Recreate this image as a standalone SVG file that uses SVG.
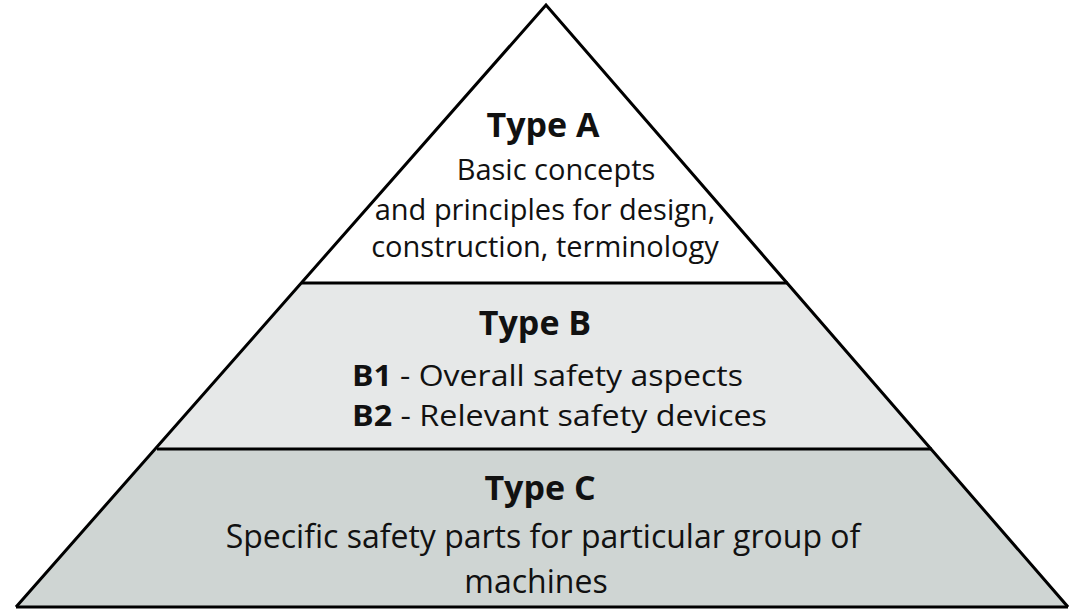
<svg xmlns="http://www.w3.org/2000/svg" width="1069" height="609" viewBox="0 0 1069 609">
<style>
.t{font-family:"Open Sans","Noto Sans","Liberation Sans",sans-serif;fill:#111;text-anchor:middle}
.h{font-size:34px;font-weight:bold}
.a{font-size:29px}
.b{font-size:32px}
.b2{font-size:29px}
.bl{text-anchor:start}
.edge{stroke:#000;stroke-width:3;fill:none;stroke-linejoin:miter}
</style>
<rect width="1069" height="609" fill="#fff"/>
<g id="typeC">
<polygon points="16,607 157,449 932,449 1068,607" fill="#cfd5d3"/>
<text class="t h" x="540" y="500">Type C</text>
<text class="t b" x="543" y="548">Specific safety parts for particular group of</text>
<text class="t b" x="536" y="593">machines</text>
</g>
<g id="typeB">
<polygon points="157,449 302,283 788,283 932,449" fill="#e6e8e8"/>
<text class="t h" x="535" y="335">Type B</text>
<text class="t b2 bl" x="352" y="386" textLength="391" lengthAdjust="spacingAndGlyphs"><tspan font-weight="bold">B1</tspan> - Overall safety aspects</text>
<text class="t b2 bl" x="352" y="426" textLength="415" lengthAdjust="spacingAndGlyphs"><tspan font-weight="bold">B2</tspan> - Relevant safety devices</text>
</g>
<g id="typeA">
<polygon points="302,283 546,5 788,283" fill="#fff"/>
<text class="t h" x="543" y="137">Type A</text>
<text class="t a" x="556" y="180">Basic concepts</text>
<text class="t a" x="545" y="220">and principles for design,</text>
<text class="t a" x="545" y="257">construction, terminology</text>
</g>
<g id="connectors">
<polyline class="edge" points="16,607 546,5 1068,607"/>
<line class="edge" x1="16" y1="607" x2="1068" y2="607"/>
<line class="edge" x1="302" y1="283" x2="788" y2="283"/>
<line class="edge" x1="157" y1="449" x2="932" y2="449"/>
</g>
</svg>
